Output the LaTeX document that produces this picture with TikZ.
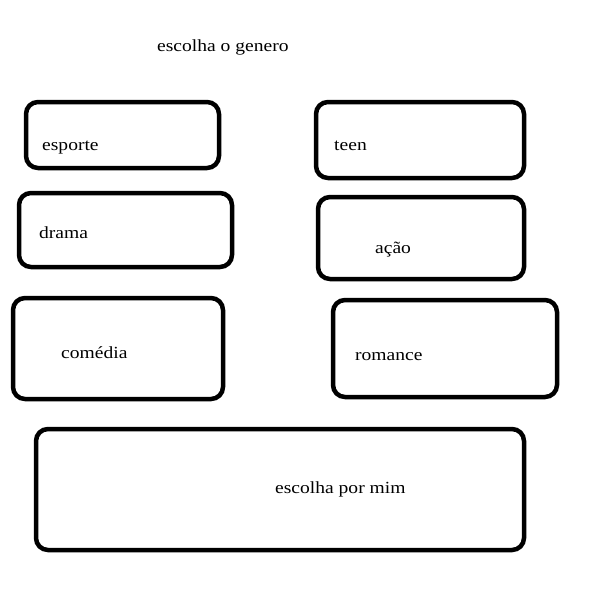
\documentclass[tikz,border=0pt]{standalone}
\usepackage{fontspec}
\setmainfont[FakeStretch=1.15]{Liberation Serif}
\usepackage{tikz}

\tikzset{
	genbox/.style={draw, line width=4.5pt, rounded corners=12pt, inner sep=0pt},
	gentext/.style={anchor=base west, inner sep=0pt, font=\fontsize{17}{20}\selectfont}
}

\begin{document}
\begin{tikzpicture}[x=1pt, y=-1pt]
		\useasboundingbox (0,0) rectangle (593,610);
		% title
		\node[gentext] (titulo) at (157,52) {escolha o genero};
		
		% the boxes of the left column
		\node[genbox, minimum width=193pt, minimum height=66pt] (esporte) at (122.5,135) {};
		\node[genbox, minimum width=213pt, minimum height=74pt] (drama) at (125.5,230) {};
		\node[genbox, minimum width=210pt, minimum height=101pt] (comedia) at (118,348.5) {};
		
		% the boxes of the right column
		\node[genbox, minimum width=208pt, minimum height=76pt] (teen) at (420,140) {};
		\node[genbox, minimum width=206pt, minimum height=82pt] (acao) at (421,238) {};
		\node[genbox, minimum width=224pt, minimum height=97pt] (romance) at (445,348.5) {};
		
		% the wide box at the bottom
		\node[genbox, minimum width=488pt, minimum height=121pt] (mim) at (280,489.5) {};
		
		% the labels
		\node[gentext] (tesporte) at (42,150) {esporte};
		\node[gentext] (tdrama) at (39,238) {drama};
		\node[gentext] (tcomedia) at (61,358) {comédia};
		\node[gentext] (tteen) at (334,150) {teen};
		\node[gentext] (tacao) at (375,253) {ação};
		\node[gentext] (tromance) at (355,360) {romance};
		\node[gentext] (tmim) at (275,493) {escolha por mim};
\end{tikzpicture}
\end{document}
